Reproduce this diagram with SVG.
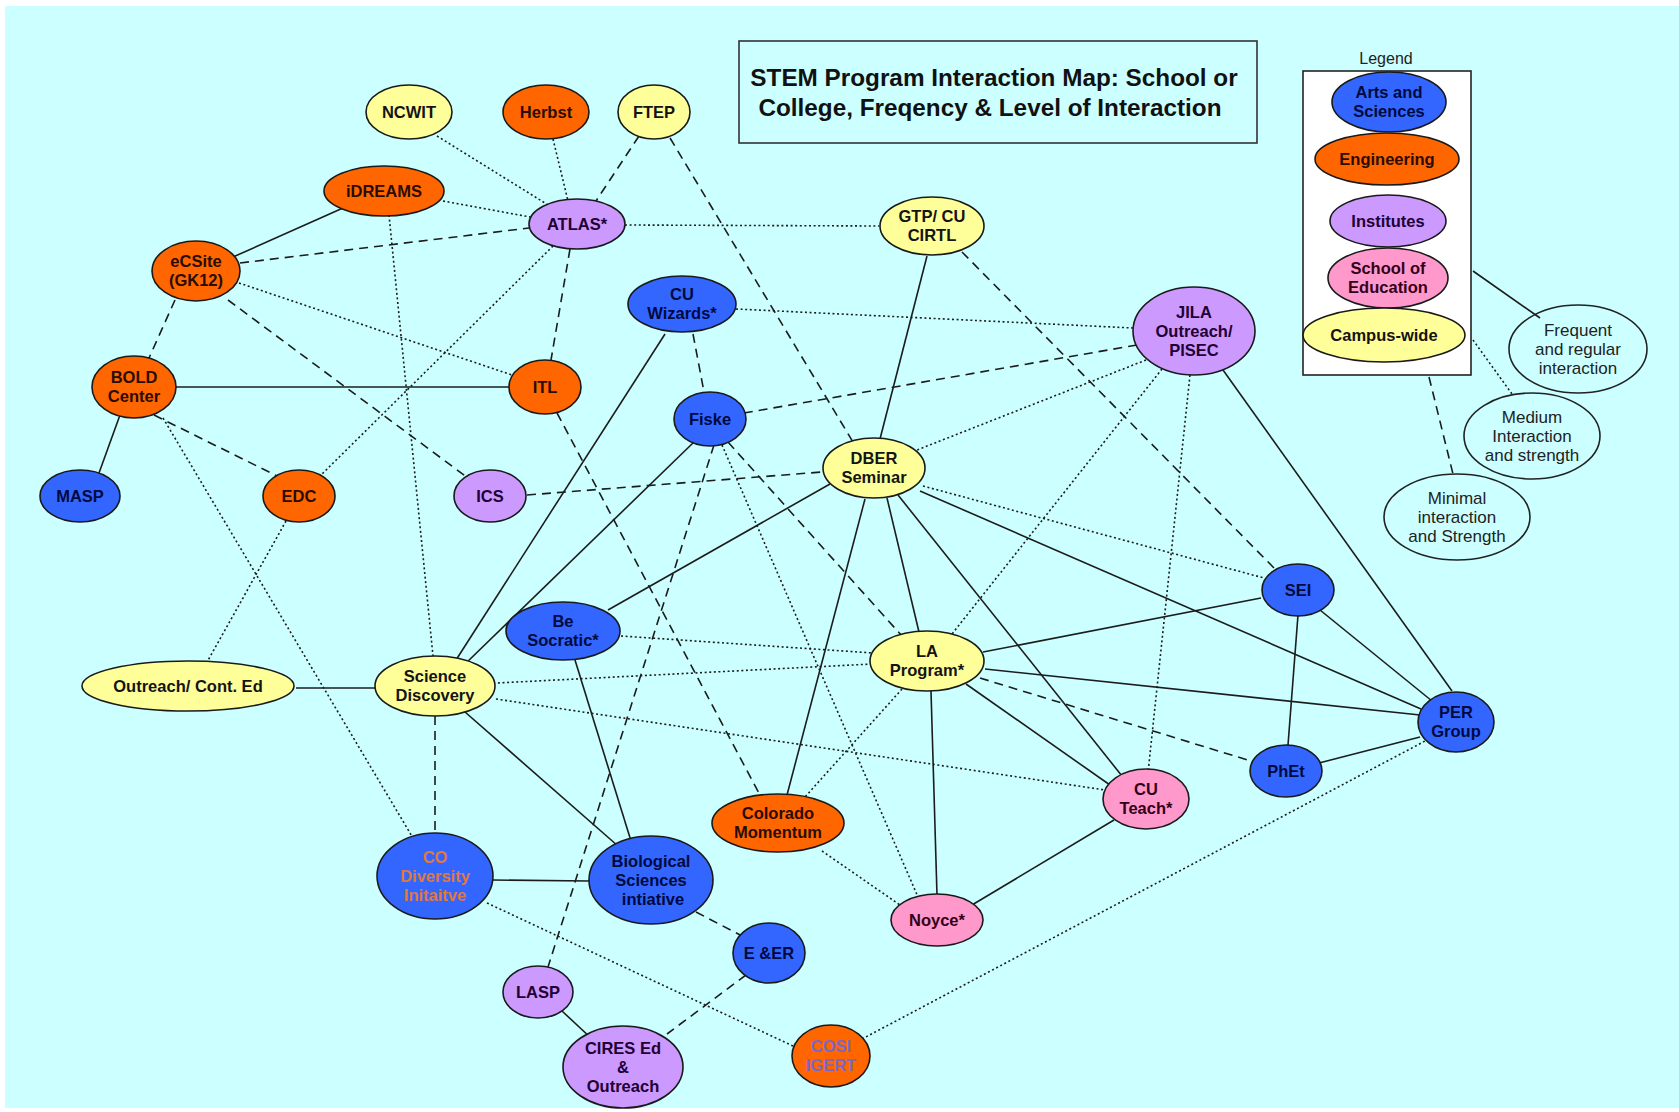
<svg xmlns="http://www.w3.org/2000/svg" width="1679" height="1112" viewBox="0 0 1679 1112">
<style>
.e{stroke:#1c1c1c;stroke-width:1.6;fill:none}
.dot{stroke-dasharray:2 2.6}
.dsh{stroke-dasharray:9 6}
.n ellipse{stroke:#1a1a1a;stroke-width:1.6}
.blue{fill:#3366FF}.org{fill:#FF6600}.pur{fill:#CC99FF}.pnk{fill:#FF99CC}.yel{fill:#FFFF99}
text{font-family:"Liberation Sans",Arial,sans-serif;text-anchor:middle}
.t{font-weight:bold;font-size:16.5px;fill:#141414}
.tb{fill:#000a40}.to{fill:#2a0c00}.tp{fill:#220033}.tk{fill:#33001a}
.desc{font-size:17px;fill:#222}
</style>
<rect x="0" y="0" width="1679" height="1112" fill="#ffffff"/>
<rect x="5" y="6" width="1674" height="1102" fill="#CCFFFF"/>

<g id="title">
<rect x="739" y="41" width="518" height="102" fill="none" stroke="#333" stroke-width="1.6"/>
<text x="994" y="86" style="font-weight:bold;font-size:24.3px;fill:#111">STEM Program Interaction Map: School or</text>
<text x="990" y="116" style="font-weight:bold;font-size:24.3px;fill:#111">College, Freqency &amp; Level of Interaction</text>
</g>

<g id="connectors">
<line class="e dot" x1="437" y1="136" x2="553" y2="208"/>
<line class="e dot" x1="553" y1="139" x2="568" y2="201"/>
<line class="e dsh" x1="639" y1="136" x2="596" y2="201"/>
<line class="e dsh" x1="670" y1="138" x2="853" y2="442"/>
<line class="e dot" x1="443" y1="201" x2="530" y2="217"/>
<line class="e dsh" x1="240" y1="263" x2="529" y2="228"/>
<line class="e dot" x1="625" y1="225" x2="879" y2="226"/>
<line class="e dsh" x1="570" y1="249" x2="551" y2="360"/>
<line class="e dot" x1="553" y1="246" x2="320" y2="476"/>
<line class="e" x1="343" y1="208" x2="233" y2="257"/>
<line class="e dot" x1="389" y1="215" x2="433" y2="656"/>
<line class="e dsh" x1="175" y1="300" x2="149" y2="358"/>
<line class="e dot" x1="239" y1="283" x2="512" y2="375"/>
<line class="e dsh" x1="228" y1="300" x2="468" y2="478"/>
<line class="e" x1="176" y1="387" x2="509" y2="387"/>
<line class="e" x1="120" y1="415" x2="99" y2="473"/>
<line class="e dsh" x1="154" y1="415" x2="279" y2="477"/>
<line class="e dot" x1="163" y1="418" x2="413" y2="838"/>
<line class="e dot" x1="286" y1="521" x2="206" y2="664"/>
<line class="e dsh" x1="557" y1="413" x2="761" y2="797"/>
<line class="e dsh" x1="527" y1="495" x2="822" y2="472"/>
<line class="e" x1="927" y1="256" x2="880" y2="439"/>
<line class="e dsh" x1="962" y1="252" x2="1274" y2="568"/>
<line class="e dot" x1="736" y1="309" x2="1133" y2="328"/>
<line class="e dsh" x1="693" y1="334" x2="704" y2="392"/>
<line class="e" x1="665" y1="334" x2="456" y2="660"/>
<line class="e dsh" x1="1137" y1="345" x2="744" y2="413"/>
<line class="e dot" x1="1146" y1="360" x2="917" y2="450"/>
<line class="e dot" x1="1162" y1="369" x2="952" y2="634"/>
<line class="e dot" x1="1190" y1="375" x2="1148" y2="773"/>
<line class="e" x1="1223" y1="370" x2="1452" y2="691"/>
<line class="e" x1="694" y1="442" x2="463" y2="666"/>
<line class="e dsh" x1="714" y1="445" x2="548" y2="967"/>
<line class="e dot" x1="722" y1="445" x2="918" y2="897"/>
<line class="e dsh" x1="728" y1="442" x2="902" y2="636"/>
<line class="e" x1="830" y1="484" x2="608" y2="610"/>
<line class="e" x1="887" y1="498" x2="919" y2="632"/>
<line class="e" x1="865" y1="499" x2="787" y2="795"/>
<line class="e" x1="898" y1="495" x2="1122" y2="776"/>
<line class="e dot" x1="923" y1="486" x2="1264" y2="578"/>
<line class="e" x1="920" y1="491" x2="1421" y2="709"/>
<line class="e dot" x1="621" y1="636" x2="873" y2="653"/>
<line class="e" x1="575" y1="660" x2="631" y2="841"/>
<line class="e dot" x1="872" y1="664" x2="497" y2="683"/>
<line class="e" x1="983" y1="652" x2="1261" y2="598"/>
<line class="e" x1="985" y1="669" x2="1420" y2="715"/>
<line class="e dsh" x1="980" y1="678" x2="1251" y2="761"/>
<line class="e" x1="966" y1="684" x2="1110" y2="785"/>
<line class="e" x1="931" y1="691" x2="937" y2="895"/>
<line class="e dot" x1="902" y1="689" x2="805" y2="797"/>
<line class="e" x1="296" y1="688" x2="375" y2="688"/>
<line class="e dot" x1="496" y1="699" x2="1105" y2="790"/>
<line class="e" x1="465" y1="712" x2="618" y2="846"/>
<line class="e dsh" x1="435" y1="716" x2="435" y2="835"/>
<line class="e" x1="1298" y1="615" x2="1288" y2="745"/>
<line class="e" x1="1320" y1="610" x2="1432" y2="701"/>
<line class="e" x1="1319" y1="763" x2="1420" y2="737"/>
<line class="e" x1="1114" y1="820" x2="972" y2="905"/>
<line class="e dot" x1="822" y1="851" x2="900" y2="905"/>
<line class="e" x1="493" y1="880" x2="589" y2="881"/>
<line class="e dot" x1="487" y1="903" x2="793" y2="1046"/>
<line class="e dsh" x1="696" y1="912" x2="744" y2="937"/>
<line class="e dsh" x1="746" y1="975" x2="667" y2="1034"/>
<line class="e" x1="562" y1="1011" x2="592" y2="1039"/>
<line class="e dot" x1="862" y1="1039" x2="1427" y2="740"/>
<line class="e" x1="1473" y1="271" x2="1540" y2="318"/>
<line class="e dot" x1="1473" y1="340" x2="1512" y2="394"/>
<line class="e dsh" x1="1429" y1="377" x2="1453" y2="474"/>
</g>

<g class="n">
<g id="ncwit"><ellipse class="yel" cx="409" cy="112" rx="43" ry="27"/><text class="t" x="409" y="118">NCWIT</text></g>
<g id="herbst"><ellipse class="org" cx="546" cy="112" rx="43" ry="27"/><text class="t to" x="546" y="118">Herbst</text></g>
<g id="ftep"><ellipse class="yel" cx="654" cy="112" rx="36" ry="27"/><text class="t" x="654" y="118">FTEP</text></g>
<g id="idreams"><ellipse class="org" cx="384" cy="191" rx="60" ry="25"/><text class="t to" x="384" y="197">iDREAMS</text></g>
<g id="atlas"><ellipse class="pur" cx="577" cy="224" rx="48" ry="25"/><text class="t tp" x="577" y="230">ATLAS*</text></g>
<g id="gtp"><ellipse class="yel" cx="932" cy="226" rx="52" ry="29"/><text class="t" x="932" y="222">GTP/ CU</text><text class="t" x="932" y="241">CIRTL</text></g>
<g id="ecsite"><ellipse class="org" cx="196" cy="271" rx="44" ry="30"/><text class="t to" x="196" y="267">eCSite</text><text class="t to" x="196" y="286">(GK12)</text></g>
<g id="cuwizards"><ellipse class="blue" cx="682" cy="304" rx="54" ry="28"/><text class="t tb" x="682" y="300">CU</text><text class="t tb" x="682" y="319">Wizards*</text></g>
<g id="jila"><ellipse class="pur" cx="1194" cy="331" rx="61" ry="44"/><text class="t tp" x="1194" y="318">JILA</text><text class="t tp" x="1194" y="337">Outreach/</text><text class="t tp" x="1194" y="356">PISEC</text></g>
<g id="bold"><ellipse class="org" cx="134" cy="387" rx="42" ry="31"/><text class="t to" x="134" y="383">BOLD</text><text class="t to" x="134" y="402">Center</text></g>
<g id="itl"><ellipse class="org" cx="545" cy="387" rx="36" ry="27"/><text class="t to" x="545" y="393">ITL</text></g>
<g id="fiske"><ellipse class="blue" cx="710" cy="419" rx="36" ry="27"/><text class="t tb" x="710" y="425">Fiske</text></g>
<g id="masp"><ellipse class="blue" cx="80" cy="496" rx="40" ry="26"/><text class="t tb" x="80" y="502">MASP</text></g>
<g id="edc"><ellipse class="org" cx="299" cy="496" rx="36" ry="26"/><text class="t to" x="299" y="502">EDC</text></g>
<g id="ics"><ellipse class="pur" cx="490" cy="496" rx="36" ry="26"/><text class="t tp" x="490" y="502">ICS</text></g>
<g id="dber"><ellipse class="yel" cx="874" cy="468" rx="51" ry="30"/><text class="t" x="874" y="464">DBER</text><text class="t" x="874" y="483">Seminar</text></g>
<g id="sei"><ellipse class="blue" cx="1298" cy="590" rx="36" ry="26"/><text class="t tb" x="1298" y="596">SEI</text></g>
<g id="besocratic"><ellipse class="blue" cx="563" cy="631" rx="57" ry="29"/><text class="t tb" x="563" y="627">Be</text><text class="t tb" x="563" y="646">Socratic*</text></g>
<g id="laprogram"><ellipse class="yel" cx="927" cy="661" rx="57" ry="30"/><text class="t" x="927" y="657">LA</text><text class="t" x="927" y="676">Program*</text></g>
<g id="outreach"><ellipse class="yel" cx="188" cy="686" rx="106" ry="25"/><text class="t" x="188" y="692">Outreach/ Cont. Ed</text></g>
<g id="sciencediscovery"><ellipse class="yel" cx="435" cy="686" rx="60" ry="30"/><text class="t" x="435" y="682">Science</text><text class="t" x="435" y="701">Discovery</text></g>
<g id="pergroup"><ellipse class="blue" cx="1456" cy="722" rx="38" ry="30"/><text class="t tb" x="1456" y="718">PER</text><text class="t tb" x="1456" y="737">Group</text></g>
<g id="phet"><ellipse class="blue" cx="1286" cy="771" rx="36" ry="26"/><text class="t tb" x="1286" y="777">PhEt</text></g>
<g id="cuteach"><ellipse class="pnk" cx="1146" cy="799" rx="43" ry="30"/><text class="t tk" x="1146" y="795">CU</text><text class="t tk" x="1146" y="814">Teach*</text></g>
<g id="coloradomomentum"><ellipse class="org" cx="778" cy="823" rx="66" ry="29"/><text class="t to" x="778" y="819">Colorado</text><text class="t to" x="778" y="838">Momentum</text></g>
<g id="codiversity"><ellipse class="blue" cx="435" cy="876" rx="58" ry="43"/><text class="t" style="fill:#E0783C" x="435" y="863">CO</text><text class="t" style="fill:#E0783C" x="435" y="882">Diversity</text><text class="t" style="fill:#E0783C" x="435" y="901">Initaitve</text></g>
<g id="biosci"><ellipse class="blue" cx="651" cy="880" rx="62" ry="44"/><text class="t tb" x="651" y="867">Biological</text><text class="t tb" x="651" y="886">Sciences</text><text class="t tb" x="653" y="905">intiative</text></g>
<g id="noyce"><ellipse class="pnk" cx="937" cy="920" rx="46" ry="26"/><text class="t tk" x="937" y="926">Noyce*</text></g>
<g id="eer"><ellipse class="blue" cx="769" cy="953" rx="36" ry="30"/><text class="t tb" x="769" y="959">E &amp;ER</text></g>
<g id="lasp"><ellipse class="pur" cx="538" cy="992" rx="35" ry="26"/><text class="t tp" x="538" y="998">LASP</text></g>
<g id="cires"><ellipse class="pur" cx="623" cy="1067" rx="60" ry="41"/><text class="t tp" x="623" y="1054">CIRES Ed</text><text class="t tp" x="623" y="1073">&amp;</text><text class="t tp" x="623" y="1092">Outreach</text></g>
<g id="cosi"><ellipse class="org" cx="831" cy="1056" rx="39" ry="31"/><text class="t" style="fill:#7a68c8" x="831" y="1052">COSI</text><text class="t" style="fill:#7a68c8" x="831" y="1071">IGERT</text></g>
</g>

<g id="legend">
<text x="1386" y="64" style="font-size:16px;fill:#222">Legend</text>
<rect x="1303" y="71" width="168" height="304" fill="#ffffff" stroke="#222" stroke-width="1.6"/>
<g class="n">
<g id="leg-arts"><ellipse class="blue" cx="1389" cy="102" rx="57" ry="30"/><text class="t tb" x="1389" y="98">Arts and</text><text class="t tb" x="1389" y="117">Sciences</text></g>
<g id="leg-eng"><ellipse class="org" cx="1387" cy="159" rx="72" ry="26"/><text class="t to" x="1387" y="165">Engineering</text></g>
<g id="leg-inst"><ellipse class="pur" cx="1388" cy="221" rx="58" ry="26"/><text class="t tp" x="1388" y="227">Institutes</text></g>
<g id="leg-soe"><ellipse class="pnk" cx="1388" cy="278" rx="60" ry="30"/><text class="t tk" x="1388" y="274">School of</text><text class="t tk" x="1388" y="293">Education</text></g>
<g id="leg-campus"><ellipse class="yel" cx="1384" cy="335" rx="81" ry="27"/><text class="t" x="1384" y="341">Campus-wide</text></g>
</g>
<g id="leg-frequent"><ellipse cx="1578" cy="349" rx="69" ry="44" fill="none" stroke="#222" stroke-width="1.6"/><text class="desc" x="1578" y="336">Frequent</text><text class="desc" x="1578" y="355">and regular</text><text class="desc" x="1578" y="374">interaction</text></g>
<g id="leg-medium"><ellipse cx="1532" cy="436" rx="68" ry="43" fill="none" stroke="#222" stroke-width="1.6"/><text class="desc" x="1532" y="423">Medium</text><text class="desc" x="1532" y="442">Interaction</text><text class="desc" x="1532" y="461">and strength</text></g>
<g id="leg-minimal"><ellipse cx="1457" cy="517" rx="73" ry="43" fill="none" stroke="#222" stroke-width="1.6"/><text class="desc" x="1457" y="504">Minimal</text><text class="desc" x="1457" y="523">interaction</text><text class="desc" x="1457" y="542">and Strength</text></g>
</g>
</svg>
